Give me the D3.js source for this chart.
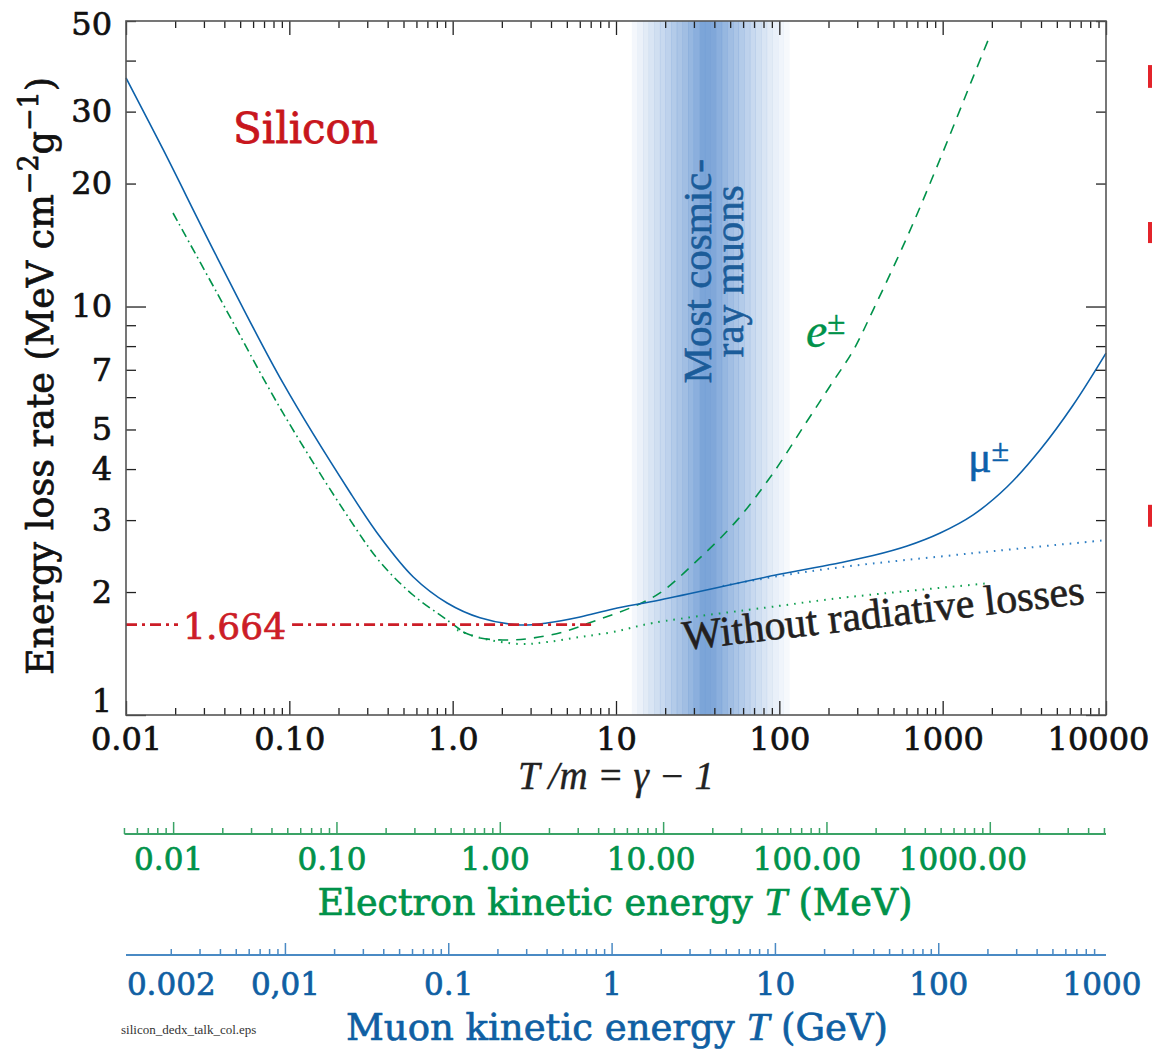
<!DOCTYPE html>
<html>
<head>
<meta charset="utf-8">
<title>Silicon dE/dx</title>
<style>
body { margin: 0; background: #fff; }
.cent { font-family: "DejaVu Serif", serif; }
.times { font-family: "Liberation Serif", serif; }
</style>
</head>
<body>
<script src="https://cdn.jsdelivr.net/npm/d3@7/dist/d3.min.js"></script>
<script>

// ---- data: [T/m, energy loss rate MeV cm^2/g] ----
var muonTotal = [
  [0.01, 36.3], [0.0169, 24.2], [0.0361, 13.2], [0.0914, 6.50], [0.236, 3.50],
  [0.359, 2.73], [0.572, 2.18], [0.925, 1.88], [1.47, 1.73], [2.59, 1.661],
  [3.78, 1.68], [6.03, 1.738], [9.6, 1.818], [18.6, 1.913], [100, 2.21],
  [236, 2.36], [375, 2.457], [606, 2.593], [966, 2.79], [1538, 3.09],
  [2483, 3.62], [3954, 4.46], [6297, 5.74], [10000, 7.69]
];
var muonNoRad = [
  [45, 2.07], [100, 2.19], [236, 2.30], [1538, 2.49], [10000, 2.68]
];
var electronLow = [
  [0.0194, 16.94], [0.0361, 10.79], [0.0914, 5.49], [0.236, 3.00], [0.359, 2.37],
  [0.572, 1.967], [0.925, 1.708], [1.16, 1.597]
];
var electronTotal = [
  [1.16, 1.597], [1.47, 1.544], [2.25, 1.526], [3.11, 1.544], [4.74, 1.597],
  [7.66, 1.708], [12.2, 1.828], [18.6, 1.99], [31.8, 2.40], [55.2, 3.00],
  [91.6, 3.91], [146, 5.2], [205, 6.4], [283, 7.8], [375, 9.8], [606, 14.8],
  [966, 23.0], [1538, 36.5], [1954, 46.2]
];
var electronNoRad = [
  [1.064, 1.615], [1.47, 1.545], [2.59, 1.492], [3.78, 1.509], [6.03, 1.552],
  [9.6, 1.597], [16.9, 1.68], [100, 1.85], [236, 1.934], [1954, 2.104]
];
var minIonValue = 1.664;
var minIonRange = [0.01, 7.45];

// cosmic-ray muon band (T/m range) and stripe shading from left to right
var bandRange = [12.5, 115];
var bandShades = [0.08, 0.14, 0.2, 0.26, 0.32, 0.38, 0.45, 0.52, 0.58, 0.65, 0.72, 0.8,
                  0.9, 0.9, 0.88,
                  0.8, 0.72, 0.65, 0.58, 0.52, 0.45, 0.38, 0.32, 0.26, 0.2, 0.15, 0.1, 0.06];

// tick labels
var xMajor = [0.01, 0.1, 1, 10, 100, 1000, 10000];
var xTickLabels = ["0.01", "0.10", "1.0", "10", "100", "1000", "10000"];
var yLabelled = [1, 2, 3, 4, 5, 7, 10, 20, 30, 50];
var yTickLabels = ["1", "2", "3", "4", "5", "7", "10", "20", "30", "50"];
var eMajor = [0.01, 0.1, 1, 10, 100, 1000];
var eTickLabels = ["0.01", "0.10", "1.00", "10.00", "100.00", "1000.00"];
var muLabelled = [0.002, 0.01, 0.1, 1, 10, 100, 1000];
var muTickLabels = ["0.002", "0,01", "0.1", "1", "10", "100", "1000"];

// masses for the secondary energy axes
var electronMass = 0.511;   // MeV
var muonMass = 0.10566;     // GeV

// red marks cut off at the right edge (y values)
var edgeMarks = [[34.3, 39.0], [14.3, 16.1], [2.89, 3.27]];

// ---- layout ----
var W = 1152, H = 1049;
var margin = {top: 21, right: 46, bottom: 334, left: 126};
var plotBottom = H - margin.bottom;
var eAxisY = 834, muAxisY = 955;

var blue = "#0d61aa", green = "#00924a", red = "#cc1d27";

var svg = d3.select("body").append("svg")
    .attr("width", W)
    .attr("height", H);

var x = d3.scaleLog().domain([0.01, 10000]).range([margin.left, W - margin.right]);
var y = d3.scaleLog().domain([1, 50]).range([plotBottom, margin.top]);

// all 1..9 x 10^n values inside [lo, hi]
function logSteps(lo, hi) {
  var out = [];
  for (var e = Math.floor(Math.log10(lo)) ; e <= Math.ceil(Math.log10(hi)); e++) {
    for (var k = 1; k < 10; k++) {
      var v = +(k * Math.pow(10, e)).toPrecision(3);
      if (v >= lo * 0.999 && v <= hi * 1.001) out.push(v);
    }
  }
  return out;
}
function isDecade(v) {
  var l = Math.log10(v);
  return Math.abs(l - Math.round(l)) < 1e-6;
}
// the original font is heavier than what we have, thicken with a thin outline
function heavy(sel, color, w) {
  sel.style("stroke", color).style("stroke-width", w).style("stroke-linejoin", "round");
}

// band
var lo = Math.log10(bandRange[0]), hi = Math.log10(bandRange[1]), n = bandShades.length;
svg.append("g").selectAll("rect")
    .data(bandShades)
    .enter().append("rect")
    .attr("x", function(d, i) { return x(Math.pow(10, lo + (hi - lo) * i / n)); })
    .attr("width", function(d, i) {
      return x(Math.pow(10, lo + (hi - lo) * (i + 1) / n)) - x(Math.pow(10, lo + (hi - lo) * i / n)) + 0.4;
    })
    .attr("y", margin.top)
    .attr("height", plotBottom - margin.top)
    .attr("fill", "#6e9bd4")
    .attr("fill-opacity", function(d) { return d; });

// band text
var bandText = svg.append("text")
    .attr("class", "times")
    .attr("transform", "translate(" + x(38) + "," + y(12.2) + ") rotate(-90)")
    .attr("text-anchor", "middle")
    .attr("fill", "#1b5c99")
    .style("font-size", "41px")
    .call(heavy, "#1b5c99", 0.6);
bandText.append("tspan").attr("x", 0).attr("y", 0).text("Most cosmic-");
bandText.append("tspan").attr("x", 0).attr("y", 32).text("ray muons");

// curves
var line = d3.line()
    .x(function(d) { return x(d[0]); })
    .y(function(d) { return y(d[1]); })
    .curve(d3.curveCatmullRom.alpha(0.5));

function curve(data, color, dash, width) {
  svg.append("path")
      .datum(data)
      .attr("fill", "none")
      .attr("stroke", color)
      .attr("stroke-width", width)
      .attr("stroke-dasharray", dash)
      .attr("d", line);
}

curve(electronNoRad, "#10a050", "1.6,6", 2);
curve(muonNoRad, "#2f7fc4", "1.6,6", 2);
curve(electronLow, green, "9,4,1.6,4", 1.6);
curve(electronTotal, green, "10,8", 1.6);
curve(muonTotal, blue, null, 1.6);

// minimum ionization line with its label
var minLabel = svg.append("text")
    .attr("class", "cent")
    .attr("x", 183)
    .attr("y", y(minIonValue) + 14)
    .attr("fill", red)
    .style("font-size", "36px")
    .call(heavy, red, 0.7)
    .text("1.664");
var lb = minLabel.node().getBBox();
[[x(minIonRange[0]), lb.x - 5], [lb.x + lb.width + 6, x(minIonRange[1])]].forEach(function(seg) {
  svg.append("line")
      .attr("x1", seg[0]).attr("x2", seg[1])
      .attr("y1", y(minIonValue)).attr("y2", y(minIonValue))
      .attr("stroke", red)
      .attr("stroke-width", 2.8)
      .attr("stroke-dasharray", "11,5,3,5");
});

// ---- main axes ----
var xMinor = logSteps(0.01, 10000).filter(function(v) { return !isDecade(v); });
var yAll = logSteps(1, 50);
var yMajorTicks = [1, 10];
var yMinorTicks = yAll.filter(function(v) { return v !== 1 && v !== 10; });

function styleAxis(g) {
  g.select(".domain").remove();
  g.selectAll(".tick line").attr("stroke", "#222").attr("stroke-width", 1.3);
}

svg.append("g").attr("transform", "translate(0," + plotBottom + ")")
    .call(d3.axisBottom(x).tickValues(xMinor).tickSize(-7).tickFormat(""))
    .call(styleAxis);
var xAx = svg.append("g").attr("transform", "translate(0," + plotBottom + ")")
    .call(d3.axisBottom(x).tickValues(xMajor).tickSize(-14).tickPadding(12)
      .tickFormat(function(d, i) { return xTickLabels[i]; }))
    .call(styleAxis);
xAx.selectAll("text")
    .attr("class", "cent")
    .attr("fill", "#111")
    .style("font-size", "32px")
    .call(heavy, "#111", 0.7)
    .attr("dx", function(d, i) { return i === xMajor.length - 1 ? -8 : 0; });

svg.append("g").attr("transform", "translate(0," + margin.top + ")")
    .call(d3.axisTop(x).tickValues(xMinor).tickSize(-7).tickFormat(""))
    .call(styleAxis);
svg.append("g").attr("transform", "translate(0," + margin.top + ")")
    .call(d3.axisTop(x).tickValues(xMajor).tickSize(-14).tickFormat(""))
    .call(styleAxis);

svg.append("g").attr("transform", "translate(" + margin.left + ",0)")
    .call(d3.axisLeft(y).tickValues(yMinorTicks).tickSize(-10).tickFormat(""))
    .call(styleAxis);
svg.append("g").attr("transform", "translate(" + margin.left + ",0)")
    .call(d3.axisLeft(y).tickValues(yMajorTicks).tickSize(-20).tickFormat(""))
    .call(styleAxis);
var yAx = svg.append("g").attr("transform", "translate(" + margin.left + ",0)")
    .call(d3.axisLeft(y).tickValues(yLabelled).tickSize(0).tickPadding(14)
      .tickFormat(function(d, i) { return yTickLabels[i]; }))
    .call(styleAxis);
yAx.selectAll("text")
    .attr("class", "cent")
    .attr("fill", "#111")
    .style("font-size", "32px")
    .call(heavy, "#111", 0.7)
    .attr("y", function(d) { return d === 1 ? -14 : (d === 50 ? 3 : 0); });

svg.append("g").attr("transform", "translate(" + (W - margin.right) + ",0)")
    .call(d3.axisRight(y).tickValues(yMinorTicks).tickSize(-10).tickFormat(""))
    .call(styleAxis);
svg.append("g").attr("transform", "translate(" + (W - margin.right) + ",0)")
    .call(d3.axisRight(y).tickValues(yMajorTicks).tickSize(-20).tickFormat(""))
    .call(styleAxis);

// frame
svg.append("rect")
    .attr("x", margin.left).attr("y", margin.top)
    .attr("width", W - margin.left - margin.right)
    .attr("height", plotBottom - margin.top)
    .attr("fill", "none")
    .attr("stroke", "#555")
    .attr("stroke-width", 1.6);

// axis titles
var yTitle = svg.append("text")
    .attr("class", "cent")
    .attr("transform", "translate(53,376) rotate(-90)")
    .attr("text-anchor", "middle")
    .attr("fill", "#111")
    .style("font-size", "36.5px")
    .call(heavy, "#111", 0.7);
yTitle.append("tspan").text("Energy loss rate (MeV cm");
yTitle.append("tspan").attr("dy", -15).style("font-size", "27px").text("\u22122");
yTitle.append("tspan").attr("dy", 15).text("g");
yTitle.append("tspan").attr("dy", -15).style("font-size", "27px").text("\u22121");
yTitle.append("tspan").attr("dy", 15).text(")");

svg.append("text")
    .attr("class", "times")
    .attr("x", x(10))
    .attr("y", 789)
    .attr("text-anchor", "middle")
    .attr("fill", "#222")
    .style("font-size", "39px")
    .style("font-style", "italic")
    .call(heavy, "#222", 0.4)
    .text("T /m = \u03b3 \u2212 1");

// annotations
svg.append("text")
    .attr("class", "cent")
    .attr("x", 233).attr("y", 143)
    .attr("fill", "#c8161d")
    .style("font-size", "42px")
    .call(heavy, "#c8161d", 0.8)
    .text("Silicon");

svg.append("text")
    .attr("class", "times")
    .attr("transform", "translate(684,650) rotate(-6.6)")
    .attr("fill", "#231f20")
    .style("font-size", "42px")
    .call(heavy, "#231f20", 0.6)
    .text("Without radiative losses");

var mu = svg.append("text")
    .attr("class", "times")
    .attr("x", 968).attr("y", 472)
    .attr("fill", blue)
    .style("font-size", "44px")
    .call(heavy, blue, 0.5)
    .text("\u03bc");
mu.append("tspan").attr("dy", -11).style("font-size", "32px").text("\u00b1");

var el = svg.append("text")
    .attr("class", "times")
    .attr("x", 806).attr("y", 347)
    .attr("fill", green)
    .style("font-size", "48px")
    .style("font-style", "italic")
    .call(heavy, green, 0.4)
    .text("e");
el.append("tspan").attr("dy", -13).style("font-size", "33px")
    .style("font-style", "normal").text("\u00b1");

svg.append("g").selectAll("rect")
    .data(edgeMarks)
    .enter().append("rect")
    .attr("x", 1148).attr("width", 6)
    .attr("y", function(d) { return y(d[1]); })
    .attr("height", function(d) { return y(d[0]) - y(d[1]); })
    .attr("fill", "#e3242b");

// ---- electron kinetic energy axis (MeV) ----
var xe = d3.scaleLog()
    .domain([0.01 * electronMass, 10000 * electronMass])
    .range(x.range());
var eTicks = logSteps(0.005, 5000);
var eG = svg.append("g").attr("transform", "translate(0," + eAxisY + ")");
eG.append("line")
    .attr("x1", xe(0.005)).attr("x2", W - margin.right)
    .attr("stroke", "#3aa366").attr("stroke-width", 2);
eG.selectAll(".tk").data(eTicks).enter().append("line")
    .attr("x1", function(d) { return xe(d); }).attr("x2", function(d) { return xe(d); })
    .attr("y1", 0).attr("y2", function(d) { return isDecade(d) ? -12 : -6; })
    .attr("stroke", "#3aa366").attr("stroke-width", 1.5);
eG.selectAll(".lab").data(eMajor).enter().append("text")
    .attr("class", "cent")
    .attr("x", function(d, i) { return xe(d) - 5 - (eTickLabels[i].length - 4) * 7.5; })
    .attr("y", 36)
    .attr("text-anchor", "middle")
    .attr("fill", green)
    .style("font-size", "31px")
    .call(heavy, green, 0.7)
    .text(function(d, i) { return eTickLabels[i]; });
var eTitle = svg.append("text")
    .attr("class", "cent")
    .attr("x", 615).attr("y", 915)
    .attr("text-anchor", "middle")
    .attr("fill", green)
    .style("font-size", "36.5px")
    .call(heavy, green, 0.7);
eTitle.append("tspan").text("Electron kinetic energy ");
eTitle.append("tspan").attr("class", "times").style("font-style", "italic").style("font-size", "41px").text("T");
eTitle.append("tspan").text(" (MeV)");

// ---- muon kinetic energy axis (GeV) ----
var xm = d3.scaleLog()
    .domain([0.01 * muonMass, 10000 * muonMass])
    .range(x.range());
var mTicks = logSteps(0.002, 900);
var mG = svg.append("g").attr("transform", "translate(0," + muAxisY + ")");
mG.append("line")
    .attr("x1", margin.left).attr("x2", W - margin.right)
    .attr("stroke", "#4a8ac4").attr("stroke-width", 2);
mG.selectAll(".tk").data(mTicks).enter().append("line")
    .attr("x1", function(d) { return xm(d); }).attr("x2", function(d) { return xm(d); })
    .attr("y1", 0).attr("y2", function(d) { return isDecade(d) ? -12 : -6; })
    .attr("stroke", "#4a8ac4").attr("stroke-width", 1.5);
mG.selectAll(".lab").data(muLabelled).enter().append("text")
    .attr("class", "cent")
    .attr("x", function(d) { return Math.min(xm(d), 1102); })
    .attr("y", 40)
    .attr("text-anchor", "middle")
    .attr("fill", "#0f5fa3")
    .style("font-size", "31px")
    .call(heavy, "#0f5fa3", 0.7)
    .text(function(d, i) { return muTickLabels[i]; });
var mTitle = svg.append("text")
    .attr("class", "cent")
    .attr("x", 617).attr("y", 1040)
    .attr("text-anchor", "middle")
    .attr("fill", "#0f5fa3")
    .style("font-size", "37px")
    .call(heavy, "#0f5fa3", 0.7);
mTitle.append("tspan").text("Muon kinetic energy ");
mTitle.append("tspan").attr("class", "times").style("font-style", "italic").style("font-size", "41px").text("T");
mTitle.append("tspan").text(" (GeV)");

svg.append("text")
    .attr("class", "times")
    .attr("x", 121).attr("y", 1034)
    .attr("fill", "#333")
    .style("font-size", "13px")
    .text("silicon_dedx_talk_col.eps");

</script>
</body>
</html>
